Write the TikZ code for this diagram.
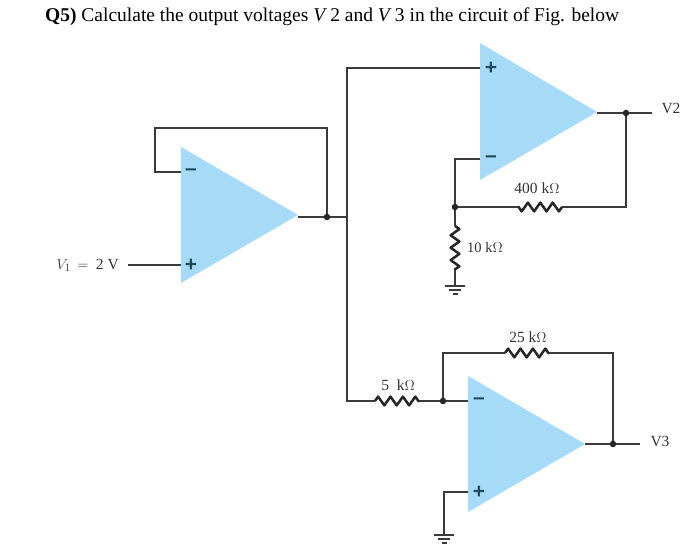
\documentclass[tikz,border=0pt]{standalone}
\usepackage{fontspec}
\setmainfont{Liberation Serif}
\newfontfamily\signfont{Liberation Sans}
\usepackage{amsmath}
\usetikzlibrary{calc,decorations.pathmorphing}
\definecolor{opblue}{HTML}{A6DBF8}
\definecolor{wire}{HTML}{3A3A3A}
\definecolor{sign}{HTML}{1F4A5C}
\tikzset{
	opamp/.style={fill=opblue,draw=none},
	line/.style={draw=wire,line width=1.15pt},
	res/.style={draw=black!85,line width=2.5pt,line join=round,decorate,decoration={zigzag,amplitude=4.4pt,segment length=12.4pt}},
	junction/.style={circle,fill=black!85,inner sep=0pt,minimum size=6.5pt},
	lab/.style={font=\fontsize{15.5}{17}\selectfont,text=black!80,inner sep=0pt},
	sgn/.style={font=\signfont\bfseries\fontsize{21}{21}\selectfont,text=sign,inner sep=0pt},
}
\newcommand{\earth}[1]{
	\draw[line,line width=1.7pt] ($(#1)+(-10,0)$) -- ($(#1)+(10,0)$);
	\draw[line,line width=1.7pt] ($(#1)+(-6,4)$) -- ($(#1)+(6,4)$);
	\draw[line,line width=1.7pt] ($(#1)+(-2.5,8)$) -- ($(#1)+(2.5,8)$);
}
\begin{document}
\begin{tikzpicture}[x=1pt,y=-1pt]
		\useasboundingbox (0,0) rectangle (689,551);
		\node[anchor=base west,inner sep=0pt,font=\fontsize{19.5}{21}\selectfont] (title) at (45,22) {\textbf{Q5)} Calculate the output voltages \textit{V}\,2 and \textit{V}\,3 in the circuit of Fig. below};
		% the three op amps
		\fill[opamp] (181,147) -- (298,215) -- (181,283) -- cycle;
		\fill[opamp] (480,43) -- (597,112) -- (480,180) -- cycle;
		\fill[opamp] (468,376) -- (585,444) -- (468,512) -- cycle;
		\node[sgn] (m1) at (191,172) {\textendash};
		\node[sgn] (p1) at (191,265) {+};
		\node[sgn] (p2) at (491,68) {+};
		\node[sgn] (m2) at (491,159) {\textendash};
		\node[sgn] (m3) at (479,401) {\textendash};
		\node[sgn] (p3) at (479,492) {+};
		% pins and corners
		\coordinate (in1m) at (181,172);
		\coordinate (in1p) at (181,265);
		\coordinate (out1) at (298,217);
		\coordinate (in2p) at (480,68);
		\coordinate (in2m) at (480,159);
		\coordinate (out2) at (597,113);
		\coordinate (in3m) at (468,401);
		\coordinate (in3p) at (468,492);
		\coordinate (out3) at (585,444);
		\coordinate (tap) at (347,217);
		\node[junction] (j1) at (327,217) {};
		\node[junction] (j2) at (626,113) {};
		\node[junction] (j3) at (455,207) {};
		\node[junction] (j4) at (443,401) {};
		\node[junction] (j5) at (613,444) {};
		% first stage
		\node[lab,anchor=east] (v1) at (119,265) {$V_1\,=$\ \ 2 V};
		\coordinate (v1end) at (128,265);
		\draw[line] (v1end) -- (in1p);
		\draw[line] (in1m) -- (155,172) -- (155,128) -- (327,128) -- (j1);
		\draw[line] (out1) -- (j1) -- (tap);
		\draw[line] (in2p) -- (347,68) -- (347,401) -- (375,401);
		% upper stage
		\node[lab] (v2) at (671,108) {V2};
		\draw[line] (out2) -- (j2) -- (652,113);
		\draw[line] (j2) -- (626,207) -- (562,207);
		\draw[res] (562,207) -- (518,207);
		\draw[line] (518,207) -- (j3);
		\draw[line] (j3) -- (455,159) -- (in2m);
		\draw[line] (j3) -- (455,226);
		\draw[res] (455,226) -- (455,270);
		\draw[line] (455,270) -- (455,286);
		\coordinate (gnd1) at (455,286);
		\earth{gnd1}
		\node[lab] (r400) at (537,188) {400 k$\Omega$};
		\node[lab,font=\fontsize{14.5}{16}\selectfont] (r10) at (485,248) {10 k$\Omega$};
		% lower stage
		\draw[res] (375,401) -- (419,401);
		\draw[line] (419,401) -- (j4) -- (in3m);
		\draw[line] (j4) -- (443,353) -- (505,353);
		\draw[res] (505,353) -- (549,353);
		\draw[line] (549,353) -- (613,353) -- (j5);
		\draw[line] (out3) -- (j5) -- (640,444);
		\draw[line] (in3p) -- (444,492) -- (444,535);
		\coordinate (gnd2) at (444,535);
		\earth{gnd2}
		\node[lab] (r5) at (398,385) {5\ \ k$\Omega$};
		\node[lab] (r25) at (528,337) {25 k$\Omega$};
		\node[lab] (v3) at (660,441) {V3};
	\end{tikzpicture}
\end{document}
